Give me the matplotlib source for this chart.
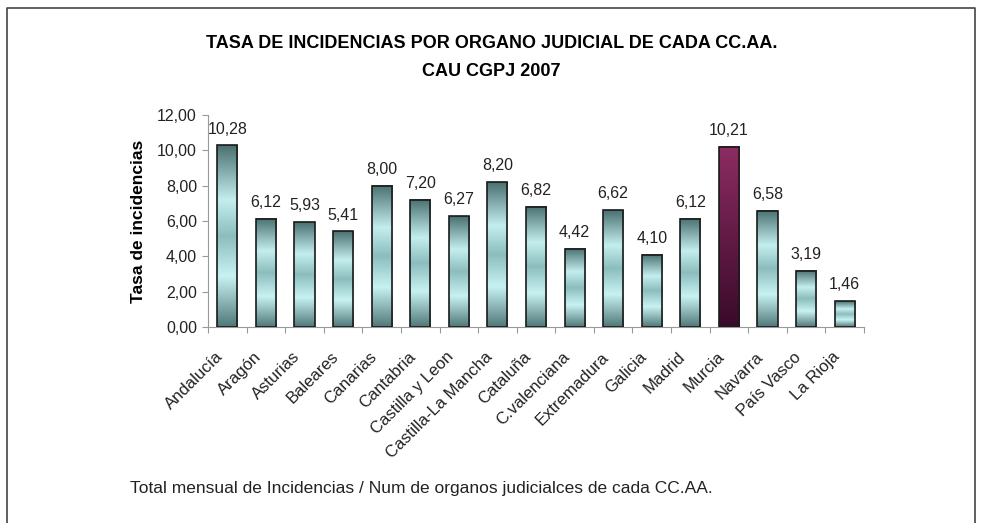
import numpy as np
import matplotlib.pyplot as plt
from matplotlib.colors import LinearSegmentedColormap

plt.rcParams['font.family'] = ['Liberation Sans', 'DejaVu Sans']

# ------------------------------------------------
#           DATA
# ------------------------------------------------
regiones = ['Andalucía', 'Aragón', 'Asturias', 'Baleares', 'Canarias',
            'Cantabria', 'Castilla y Leon', 'Castilla-La Mancha', 'Cataluña',
            'C.valenciana', 'Extremadura', 'Galicia', 'Madrid', 'Murcia',
            'Navarra', 'País Vasco', 'La Rioja']
tasa = [10.28, 6.12, 5.93, 5.41, 8.00, 7.20, 6.27, 8.20, 6.82,
        4.42, 6.62, 4.10, 6.12, 10.21, 6.58, 3.19, 1.46]
yticks = [0, 2, 4, 6, 8, 10, 12]
destacada = 'Murcia'

# colour ramps (top of bar -> bottom of bar)
cmap_teal = LinearSegmentedColormap.from_list('teal', [
    (0.0, '#4a7070'), (0.3, '#c4eeee'), (0.5, '#8cbdbd'),
    (0.72, '#c8f2f2'), (1.0, '#517878')])
cmap_murcia = LinearSegmentedColormap.from_list('murcia', [
    (0.0, '#8c2c62'), (1.0, '#3a0a2a')])

fig = plt.figure(figsize=(9.83, 5.23), dpi=100)
ax = fig.add_axes([208 / 983, 1 - 327 / 523, 656 / 983, 212 / 523])

x = np.arange(len(regiones))
w = 0.52
grad = np.linspace(0, 1, 256).reshape(-1, 1)
for xi, v, r in zip(x, tasa, regiones):
    cm = cmap_murcia if r == destacada else cmap_teal
    ax.imshow(grad, cmap=cm, aspect='auto', origin='upper',
              extent=[xi - w / 2, xi + w / 2, 0, v], zorder=2)
    ax.bar(xi, v, width=w, facecolor='none', edgecolor='#1a1a1a',
           linewidth=1.2, zorder=3)
    ax.text(xi, v + 0.5, f'{v:.2f}'.replace('.', ','), ha='center',
            va='bottom', fontsize=11.5, color='#222222')
    # category label, rotated
    ax.annotate(r, xy=(xi, 0), xycoords=('data', 'axes fraction'),
                xytext=(-9, -16), textcoords='offset points',
                rotation=45, ha='right', va='top', rotation_mode='anchor',
                fontsize=12, color='#222222', annotation_clip=False)

ax.set_xlim(-0.5, len(regiones) - 0.5)
ax.set_ylim(0, 12)
ax.set_yticks(yticks)
ax.set_yticklabels([f'{t:.2f}'.replace('.', ',') for t in yticks],
                   fontsize=11.5, color='#222222')
ax.set_xticks(np.arange(len(regiones) + 1) - 0.5)
ax.set_xticklabels([])
ax.tick_params(axis='x', length=4, color='#999999')
ax.tick_params(axis='y', length=4, color='#999999', pad=4)
for s in ['top', 'right']:
    ax.spines[s].set_visible(False)
for s in ['left', 'bottom']:
    ax.spines[s].set_color('#999999')
ax.set_ylabel('Tasa de incidencias', fontsize=12.5, fontweight='bold', labelpad=8)

fig.text(0.5, 1 - 44 / 523, 'TASA DE INCIDENCIAS POR ORGANO JUDICIAL DE CADA CC.AA.',
         ha='center', va='center', fontsize=13, fontweight='bold')
fig.text(0.5, 1 - 72 / 523, 'CAU CGPJ 2007', ha='center', va='center',
         fontsize=13, fontweight='bold')
fig.text(130 / 983, 1 - 488 / 523,
         'Total mensual de Incidencias / Num de organos judicialces de cada CC.AA.',
         ha='left', va='center', fontsize=12.5, color='#222222')

# frame around the figure
fig.add_artist(plt.Line2D([7 / 983, 7 / 983, 975 / 983, 975 / 983],
                          [0, 1 - 8 / 523, 1 - 8 / 523, 0],
                          transform=fig.transFigure, color='#444444', lw=1.2))

fig.savefig('out.png', dpi=100)
